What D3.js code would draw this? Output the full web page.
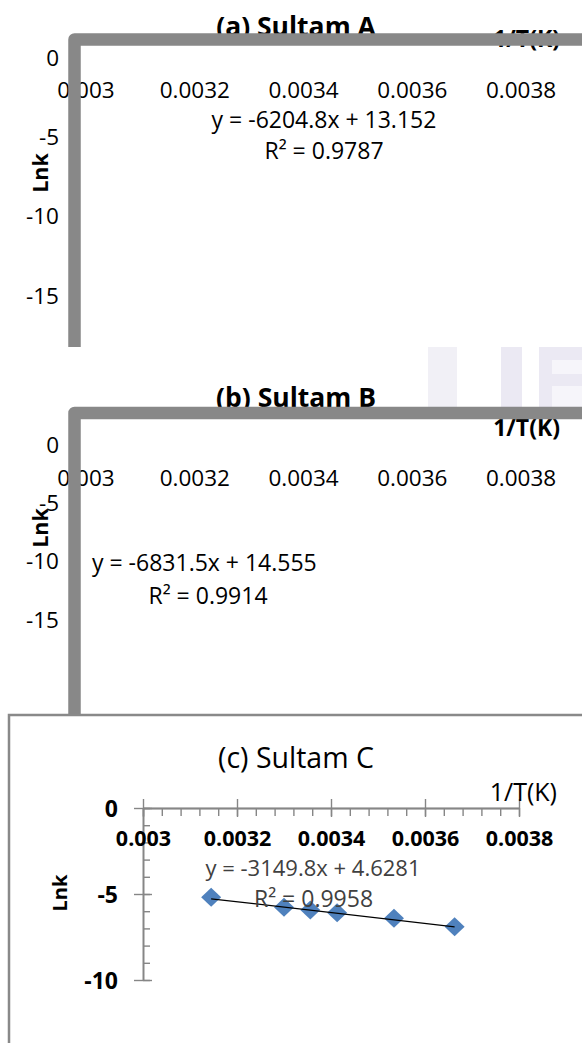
<!DOCTYPE html>
<html><head><meta charset="utf-8">
<script src="https://cdn.jsdelivr.net/npm/d3@7"></script>
<style>
html,body{margin:0;padding:0;background:#fff;overflow:hidden}
svg{display:block}
text{font-family:"Open Sans",sans-serif}
</style>
</head><body>
<svg id="chart" width="582" height="1043"></svg>
<script>
// ---------- data ----------
const xTicks = [0.003, 0.0032, 0.0034, 0.0036, 0.0038];
const xTickLabels = ["0.003", "0.0032", "0.0034", "0.0036", "0.0038"];
const yTicksAB = [0, -5, -10, -15];
const yTicksC = [0, -5, -10];
const titles = ["(a) Sultam A", "(b) Sultam B", "(c) Sultam C"];
const xTitle = "1/T(K)";
const yTitle = "Lnk";
const invTC = [0.003145, 0.003300, 0.003356, 0.003413, 0.003534, 0.003663];
const lnkC = [-5.19, -5.77, -5.93, -6.09, -6.41, -6.90];
const slopes = [-6204.8, -6831.5, -3149.8];
const intercepts = [13.152, 14.555, 4.6281];
const r2 = ["0.9787", "0.9914", "0.9958"];

const eqText = i => `y = ${slopes[i]}x + ${intercepts[i]}`;
const r2Text = i => `R\u00B2 = ${r2[i]}`;

const svg = d3.select("#chart");
const BAR = "#888888";

function txt(g, s, x, y, opt) {
  const t = g.append("text").attr("x", x).attr("y", y).attr("dy", opt.dy || "0.36em")
    .attr("text-anchor", opt.anchor || "middle")
    .attr("font-size", opt.size).attr("font-weight", opt.bold ? 700 : 400)
    .attr("fill", opt.fill || "#000").text(s);
  if (opt.rotate) t.attr("transform", `rotate(-90,${x},${y})`);
  return t;
}

// ---------- panels a & b (frame-only) ----------
function framePanel(idx, cfg) {
  const g = svg.append("g");
  const x = d3.scaleLinear().domain([0.003, 0.0038]).range([85.5, 520.5]);
  const y = d3.scaleLinear().domain([0, -15]).range(cfg.yRange);

  // title (partially hidden by frame)
  txt(g, titles[idx], 296, cfg.titleBase, {size: 26.5, bold: true, dy: "0"});
  // x axis title
  txt(g, xTitle, 560, cfg.xtBase, {size: 23, bold: true, anchor: "end", dy: "0"});

  // x tick labels
  const ax = g.append("g").attr("transform", `translate(0,${cfg.xLabY})`)
    .call(d3.axisBottom(x).tickValues(xTicks).tickFormat((d, i) => xTickLabels[i]).tickSize(0).tickPadding(0));
  ax.select(".domain").remove();
  ax.selectAll("text").attr("y", 0).attr("dy", "0.36em").attr("font-size", 22.5)
    .attr("font-family", "Open Sans").attr("fill", "#000");

  // y tick labels
  const ay = g.append("g").attr("transform", "translate(59,0)")
    .call(d3.axisLeft(y).tickValues(yTicksAB).tickFormat(d => String(d)).tickSize(0).tickPadding(0));
  ay.select(".domain").remove();
  ay.selectAll("text").attr("x", 0).attr("dy", "0.36em").attr("font-size", 22.5)
    .attr("font-family", "Open Sans").attr("fill", "#000");

  // y title
  txt(g, yTitle, 40, cfg.lnkY, {size: 21.5, bold: true, rotate: true});

  // equation + R²
  txt(g, eqText(idx), cfg.eq[0], cfg.eq[1], {size: 23, anchor: cfg.eqAnchor});
  txt(g, r2Text(idx), cfg.r2[0], cfg.r2[1], {size: 23});

  // thick frame
  g.append("path")
    .attr("d", d3.line()([[74.5, cfg.barBottom], [74.5, cfg.barY], [600, cfg.barY]]))
    .attr("fill", "none").attr("stroke", BAR).attr("stroke-width", 12.5)
    .attr("stroke-linejoin", "round");
}

// faint watermark behind panel b heading
const wm = svg.append("g").attr("fill", "#ebe9f3");
wm.append("rect").attr("x", 428).attr("y", 347).attr("width", 29).attr("height", 60).attr("fill", "#f1f0f6");
wm.append("rect").attr("x", 501).attr("y", 347).attr("width", 21).attr("height", 60);
wm.append("rect").attr("x", 539).attr("y", 347).attr("width", 43).attr("height", 60);
wm.append("rect").attr("x", 552).attr("y", 360).attr("width", 30).attr("height", 14).attr("fill", "#f6f5fa");
wm.append("rect").attr("x", 552).attr("y", 386).attr("width", 30).attr("height", 21).attr("fill", "#f6f5fa");

framePanel(0, {yRange: [57, 295], titleBase: 36, xtBase: 47, xLabY: 90, lnkY: 173,
  eq: [324, 120], eqAnchor: "middle", r2: [324, 151], barY: 39.5, barBottom: 347});
framePanel(1, {yRange: [444, 619], titleBase: 407, xtBase: 436, xLabY: 478, lnkY: 528,
  eq: [92, 563], eqAnchor: "start", r2: [208, 596], barY: 413, barBottom: 716});

// ---------- panel c ----------
const gc = svg.append("g");
gc.append("rect").attr("x", 9).attr("y", 715).attr("width", 620).attr("height", 400)
  .attr("fill", "#fff").attr("stroke", "#898989").attr("stroke-width", 2.5);

const xC = d3.scaleLinear().domain([0.003, 0.0038]).range([143, 519]);
const yC = d3.scaleLinear().domain([0, -10]).range([808, 980]);
const xMinor = d3.range(0, 21).map(i => 0.003 + i * 0.00004);
const yMinor = d3.range(0, -11, -1);
const AX = "#868686";

function styleAxis(sel) {
  sel.selectAll("path,line").attr("stroke", AX).attr("stroke-width", 1.4);
}
gc.append("g").attr("transform", "translate(0,808)")
  .call(d3.axisBottom(xC).tickValues(xMinor).tickSize(8).tickSizeOuter(0).tickFormat(""))
  .call(styleAxis);
gc.append("g").attr("transform", "translate(0,808)")
  .call(d3.axisBottom(xC).tickValues(xTicks).tickSize(9).tickSizeOuter(0).tickFormat(""))
  .call(styleAxis);
gc.append("g").attr("transform", "translate(0,808)")
  .call(d3.axisTop(xC).tickValues(xTicks).tickSize(9).tickSizeOuter(0).tickFormat(""))
  .call(styleAxis);
gc.append("g").attr("transform", "translate(143,0)")
  .call(d3.axisRight(yC).tickValues(yMinor).tickSize(7).tickSizeOuter(0).tickFormat(""))
  .call(styleAxis);
gc.append("g").attr("transform", "translate(143,0)")
  .call(d3.axisRight(yC).tickValues(yTicksC).tickSize(9).tickSizeOuter(0).tickFormat(""))
  .call(styleAxis);
gc.append("g").attr("transform", "translate(143,0)")
  .call(d3.axisLeft(yC).tickValues(yTicksC).tickSize(9).tickSizeOuter(0).tickFormat(""))
  .call(styleAxis);

// tick labels
const lx = gc.append("g").attr("transform", "translate(0,838)")
  .call(d3.axisBottom(xC).tickValues(xTicks).tickFormat((d, i) => xTickLabels[i]).tickSize(0).tickPadding(0));
lx.select(".domain").remove();
lx.selectAll("text").attr("y", 0).attr("dy", "0.36em").attr("font-size", 21.5).attr("font-weight", 700)
  .attr("font-family", "Open Sans").attr("fill", "#000");
const ly = gc.append("g").attr("transform", "translate(118,0)")
  .call(d3.axisLeft(yC).tickValues(yTicksC).tickFormat(d => String(d)).tickSize(0).tickPadding(0));
ly.select(".domain").remove();
ly.selectAll("text").attr("x", 0).attr("dy", "0.36em").attr("font-size", 23).attr("font-weight", 700)
  .attr("font-family", "Open Sans").attr("fill", "#000");

txt(gc, titles[2], 296, 758, {size: 28.5});
txt(gc, xTitle, 557, 792, {size: 25, anchor: "end"});
txt(gc, yTitle, 60, 893, {size: 20, bold: true, rotate: true});

// markers
const ptsC = invTC.map((v, i) => [v, lnkC[i]]);
gc.append("g").selectAll("path").data(ptsC).join("path")
  .attr("transform", d => `translate(${xC(d[0])},${yC(d[1])})`)
  .attr("d", "M0,-9.5L10,0L0,9.5L-10,0Z")
  .attr("fill", "#4F81BD");

// trendline
const tx = d3.extent(invTC);
gc.append("path")
  .attr("d", d3.line()(tx.map(v => [xC(v), yC(slopes[2] * v + intercepts[2])])))
  .attr("stroke", "#000").attr("stroke-width", 1.2).attr("fill", "none");

txt(gc, eqText(2), 313, 868, {size: 22, fill: "#404040"});
txt(gc, r2Text(2), 313.5, 899, {size: 23, fill: "#404040"});
</script>
</body></html>
